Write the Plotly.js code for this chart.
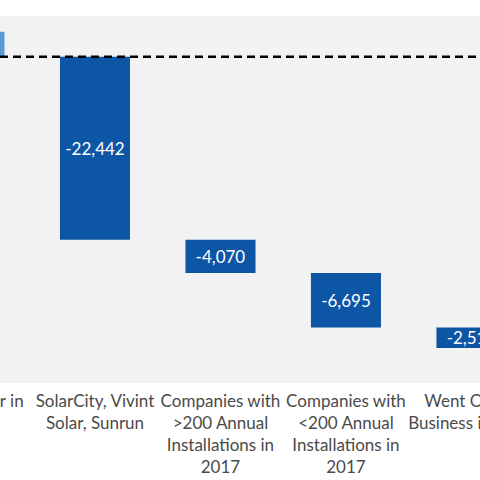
<!DOCTYPE html>
<html><head><meta charset="utf-8">
<script src="https://cdn.plot.ly/plotly-3.0.1.min.js"></script>
<style>
html,body{margin:0;padding:0;overflow:hidden;width:480px;height:480px;background:#fff}
#chart{position:absolute;left:-130px;top:0;width:740px;height:480px}
</style>
</head><body><div id="chart"></div>
<script>
// Data (the chart is a cropped view of a waterfall)
const categories = [
  "Top Installer in<br>2016",
  "SolarCity, Vivint<br>Solar, Sunrun",
  "Companies with<br>&gt;200 Annual<br>Installations in<br>2017",
  "Companies with<br>&lt;200 Annual<br>Installations in<br>2017",
  "Went Out of<br>Business in 2017"
];
const startLevel = 40000;
const changes = [3080, -22442, -4070, -6695, -2515];

// Build bar bases from the data
const bases = [];
let level = startLevel;
changes.forEach((c, i) => {
  if (i === 0) { bases.push(startLevel); }
  else { bases.push(level); level += c; }
});
const colors = changes.map(c => c >= 0 ? '#5b9bd5' : '#0d56a6');
const labels = changes.map(c => c.toLocaleString('en-US'));

const trace = {
  type: 'bar',
  x: categories,
  y: changes,
  base: bases,
  width: 0.558,
  marker: {color: colors, line: {width: 0}},
  text: labels,
  textposition: 'inside',
  insidetextanchor: 'middle',
  constraintext: 'none',
  textfont: {family: 'Lato, sans-serif', size: 17, color: '#ffffff'},
  hoverinfo: 'none'
};

const layout = {
  width: 740, height: 480,
  margin: {l: 0, r: 0, t: 16, b: 97, pad: 0},
  paper_bgcolor: '#ffffff',
  plot_bgcolor: '#f2f2f2',
  showlegend: false,
  xaxis: {
    type: 'category',
    range: [-0.7928, 5.104],
    showgrid: false, zeroline: false, showline: false,
    ticks: '',
    ticklabelstandoff: 6,
    tickfont: {family: 'Lato, sans-serif', size: 17, color: '#4a4a4a'},
    automargin: false,
    fixedrange: true
  },
  yaxis: {
    range: [0, 45000],
    showgrid: false, zeroline: false, showline: false,
    showticklabels: false, ticks: '',
    automargin: false,
    fixedrange: true
  },
  shapes: [{
    type: 'line', xref: 'paper', yref: 'y',
    x0: 0, x1: 1, y0: startLevel, y1: startLevel,
    layer: 'above',
    line: {color: '#000000', width: 2.5, dash: '8px,5px'}
  }]
};

Plotly.newPlot('chart', [trace], layout, {displayModeBar: false, staticPlot: true});
</script>
</body></html>
